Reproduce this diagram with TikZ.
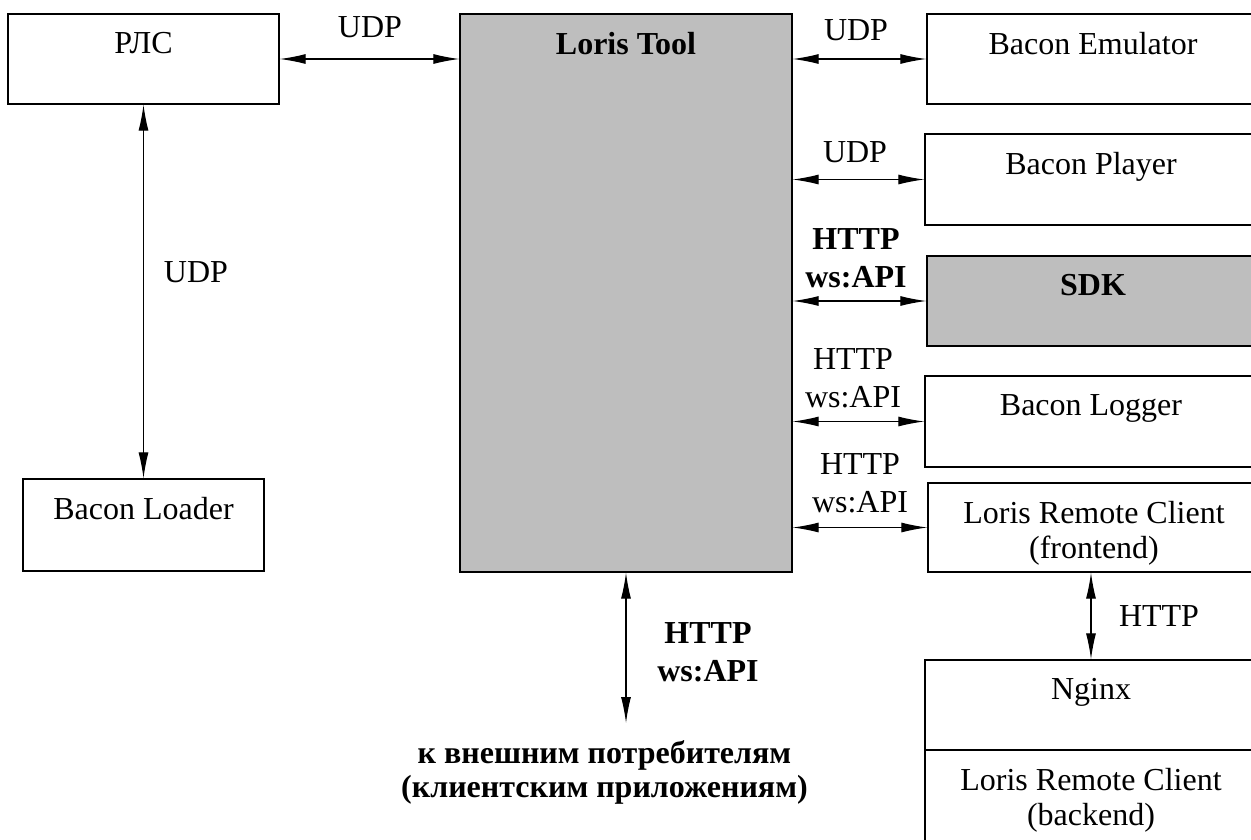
\documentclass[tikz,border=0pt]{standalone}
\usepackage{fontspec}
\setmainfont{Liberation Serif}
\usetikzlibrary{arrows.meta}
\definecolor{boxgray}{RGB}{190,190,190}
\begin{document}
\begin{tikzpicture}[x=1pt,y=-1pt,
  box/.style={draw, line width=1.3pt, minimum width=332pt, minimum height=90pt, inner sep=0pt, fill=white},
  graybox/.style={box, fill=boxgray},
  boxtext/.style={anchor=north, yshift=-19pt, inner sep=0pt, align=center, font=\fontsize{32}{35}\selectfont},
  boxtextb/.style={boxtext, font=\fontsize{32}{35}\selectfont\bfseries},
  lab/.style={inner sep=0pt, align=center, font=\fontsize{32}{38.5}\selectfont},
  labb/.style={lab, font=\fontsize{32}{38.5}\selectfont\bfseries},
  conn/.style={line width=1.2pt, {Latex[length=26pt,width=10pt]}-{Latex[length=26pt,width=10pt]}},
]
\useasboundingbox (0,0) rectangle (1251,839);
\clip (0,0) rectangle (1251,839);

% left column
\node[box, minimum width=271pt, label={[boxtext]north:РЛС}] (rls) at (143.5,59) {};
\node[box, minimum width=241pt, minimum height=92pt, label={[boxtext]north:Bacon Loader}] (loader) at (143.5,525) {};

% central block
\node[graybox, minimum height=558pt, label={[boxtextb]north:Loris Tool}] (loris) at (626,293) {};

% right column
\node[box, label={[boxtext]north:Bacon Emulator}] (emu) at (1093,59) {};
\node[box, minimum height=91pt, label={[boxtext]north:Bacon Player}] (player) at (1091,179.5) {};
\node[graybox, label={[boxtextb]north:SDK}] (sdk) at (1093,301) {};
\node[box, minimum height=91pt, label={[boxtext]north:Bacon Logger}] (logger) at (1091,421.5) {};
\node[box, minimum height=89pt, label={[boxtext]north:Loris Remote Client\\(frontend)}] (front) at (1094,527.5) {};
\node[box, label={[boxtext]north:Nginx}] (nginx) at (1091,705) {};
\node[box, minimum height=94pt, label={[boxtext]north:Loris Remote Client\\(backend)}] (backend) at (1091,797) {};

% connectors
\draw[conn] (rls.east) -- (rls.east -| loris.west);
\draw[conn] (loris.east |- emu.west) -- (emu.west);
\draw[conn] (loris.east |- player.west) -- (player.west);
\draw[conn] (loris.east |- sdk.west) -- (sdk.west);
\draw[conn] (loris.east |- logger.west) -- (logger.west);
\draw[conn] (loris.east |- front.west) -- (front.west);
\draw[conn] (rls.south) -- (loader.north);
\draw[conn] (nginx.north |- front.south) -- (nginx.north);
\coordinate (ext) at (626,723);
\draw[conn] (loris.south) -- (ext);

% connector labels
\node[lab] (l1) at (370,27) {UDP};
\node[lab] (l2) at (856,30) {UDP};
\node[lab] (l3) at (855,152) {UDP};
\node[labb] (l4) at (856,258) {HTTP\\ws:API};
\node[lab] (l5) at (853,378) {HTTP\\ws:API};
\node[lab] (l6) at (860,483) {HTTP\\ws:API};
\node[lab] (l7) at (1159,616) {HTTP};
\node[lab] (l8) at (196,272) {UDP};
\node[labb] (l9) at (708,652) {HTTP\\ws:API};
\node[labb, font=\fontsize{32}{34}\selectfont\bfseries] (extlbl) at (604.5,772) {к внешним потребителям\\(клиентским приложениям)};
\end{tikzpicture}
\end{document}
